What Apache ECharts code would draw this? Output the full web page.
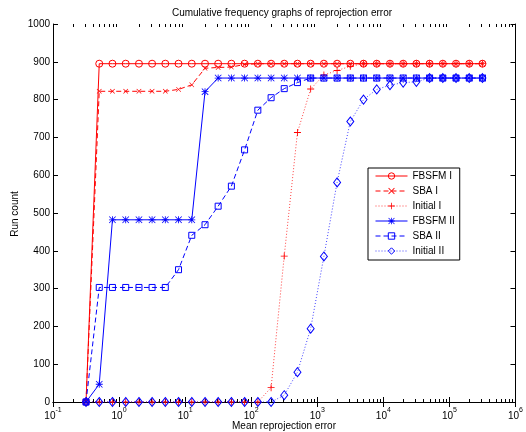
<!DOCTYPE html>
<html>
<head>
<meta charset="utf-8">
<script src="https://cdn.jsdelivr.net/npm/echarts@6/dist/echarts.min.js"></script>
<style>
  html, body { margin: 0; padding: 0; background: #fff; }
  #chart { width: 526px; height: 432px; }
</style>
</head>
<body>
<div id="chart"></div>
<script>
// error values (x), one point every 0.2 decade from 10^-0.5 to 10^5.5
var errors = [0.316, 0.501, 0.794, 1.26, 2.0, 3.16, 5.01, 7.94, 12.6, 20.0, 31.6,
  50.1, 79.4, 126, 200, 316, 501, 794, 1259, 1995, 3162, 5012, 7943, 12589,
  19953, 31623, 50119, 79433, 125893, 199526, 316228];

// run counts per method
var fbsfm1 = [0, 895, 895, 895, 895, 895, 895, 895, 895, 895, 895, 895, 895, 895, 895, 895,
  895, 895, 895, 895, 895, 895, 895, 895, 895, 895, 895, 895, 895, 895, 895];
var sba1 = [0, 822, 822, 822, 822, 822, 822, 827, 839, 883, 885, 886, 893, 895, 895, 895,
  895, 895, 895, 895, 895, 895, 895, 895, 895, 895, 895, 895, 895, 895, 895];
var initial1 = [0, 0, 0, 0, 0, 0, 0, 0, 0, 0, 0, 0, 0, 0, 38, 386,
  713, 828, 865, 877, 888, 895, 895, 895, 895, 895, 895, 895, 895, 895, 895];
var fbsfm2 = [0, 47, 482, 482, 482, 482, 482, 482, 482, 821, 857, 857, 857, 857, 857, 857,
  857, 857, 857, 857, 857, 857, 857, 857, 857, 857, 857, 857, 857, 857, 857];
var sba2 = [0, 303, 303, 303, 303, 303, 303, 350, 441, 469, 518, 571, 667, 772, 805, 829,
  845, 857, 857, 857, 857, 857, 857, 857, 857, 857, 857, 857, 857, 857, 857];
var initial2 = [0, 0, 0, 0, 0, 0, 0, 0, 0, 0, 0, 0, 0, 0, 0, 18,
  79, 194, 385, 581, 742, 800, 827, 838, 845, 847, 857, 857, 857, 857, 857];

var names = ["FBSFM I", "SBA I", "Initial I", "FBSFM II", "SBA II", "Initial II"];

// log axis minor ticks (2..9 in each decade)
var decades = [0.1, 1, 10, 100, 1000, 10000, 100000];
var minorSteps = [2, 3, 4, 5, 6, 7, 8, 9];

var FONT = "Liberation Sans, Arial, Helvetica, sans-serif";
var RED = "#ff0000";
var BLUE = "#0000ff";
var DASHED = [5, 3];
var DOTTED = [1, 2];

// marker shapes
var PLUS = "path://M4.4,0H5.6V4.4H10V5.6H5.6V10H4.4V5.6H0V4.4H4.4Z";
var CROSS = "path://M0.9,0L5,4.1L9.1,0L10,0.9L5.9,5L10,9.1L9.1,10L5,5.9L0.9,10L0,9.1L4.1,5L0,0.9Z";
var STAR = "path://M4.4,0H5.6V10H4.4Z M0,4.4H10V5.6H0Z M0.8,0L10,9.2L9.2,10L0,0.8Z M9.2,0L10,0.8L0.8,10L0,9.2Z";

function pairs(ys) {
  return errors.map(function (x, i) { return [x, ys[i]]; });
}

function lineSeries(name, ys, color, dash, symbol, size, hollow) {
  return {
    name: name,
    type: "line",
    data: pairs(ys),
    symbol: symbol,
    symbolSize: size,
    showAllSymbol: true,
    animation: false,
    lineStyle: { color: color, width: 1, type: dash, opacity: dash === DOTTED ? 0.75 : 1 },
    // hollow markers: transparent face, thin coloured edge
    itemStyle: hollow
      ? { color: "rgba(255,255,255,0)", borderColor: color, borderWidth: 1 }
      : { color: color, borderWidth: 0 },
    emphasis: { disabled: true }
  };
}

var minorData = [];
decades.forEach(function (d) {
  minorSteps.forEach(function (m) { minorData.push([d * m, 0]); });
});

var chart = echarts.init(document.getElementById("chart"));

var sup = function (v) {
  var e = Math.round(Math.log(v) / Math.LN10);
  return "{b|10}{e|" + e + "}";
};

chart.setOption({
  backgroundColor: "#fff",
  animation: false,
  textStyle: { fontFamily: FONT },
  grid: { left: 53, right: 10, top: 24, bottom: 30 },
  graphic: [
    {
      type: "text", x: 282, y: 13,
      style: { text: "Cumulative frequency graphs of reprojection error", fontSize: 10,
        fontFamily: FONT, fill: "#000", align: "center", verticalAlign: "middle" }
    },
    {
      type: "text", x: 284, y: 426,
      style: { text: "Mean reprojection error", fontSize: 10,
        fontFamily: FONT, fill: "#000", align: "center", verticalAlign: "middle" }
    },
    {
      type: "text", x: 15, y: 214, rotation: Math.PI / 2,
      style: { text: "Run count", fontSize: 10,
        fontFamily: FONT, fill: "#000", align: "center", verticalAlign: "middle" }
    }
  ],
  legend: {
    data: names,
    orient: "vertical",
    left: 368,
    top: 168,
    padding: [3, 5, 4, 7],
    itemWidth: 32,
    itemHeight: 8,
    itemGap: 5,
    backgroundColor: "#fff",
    borderColor: "#000",
    borderWidth: 1,
    borderRadius: 0,
    selectedMode: false,
    lineStyle: { width: 1 },
    itemStyle: { borderWidth: 1 },
    textStyle: { fontSize: 10, color: "#000", fontFamily: FONT, padding: [0, 0, 0, 0] }
  },
  xAxis: [
    {
      type: "log", logBase: 10, min: 0.1, max: 1000000,
      axisLine: { lineStyle: { color: "#000", width: 1 } },
      axisTick: { inside: true, length: 5, lineStyle: { color: "#000" } },
      axisLabel: {
        margin: 5, color: "#000", formatter: sup,
        rich: {
          b: { fontSize: 10, fontFamily: FONT, color: "#000", lineHeight: 14, verticalAlign: "bottom" },
          e: { fontSize: 7, fontFamily: FONT, color: "#000", lineHeight: 8, verticalAlign: "top" }
        }
      },
      splitLine: { show: false }
    },
    {
      type: "log", logBase: 10, min: 0.1, max: 1000000, position: "top",
      axisLine: { lineStyle: { color: "#000", width: 1 } },
      axisTick: { inside: true, length: 5, lineStyle: { color: "#000" } },
      axisLabel: { show: false },
      splitLine: { show: false }
    }
  ],
  yAxis: [
    {
      type: "value", min: 0, max: 1000, interval: 100,
      axisLine: { show: true, lineStyle: { color: "#000", width: 1 } },
      axisTick: { show: true, inside: true, length: 5, lineStyle: { color: "#000" } },
      axisLabel: {
        margin: 3, fontSize: 10, color: "#000", fontFamily: FONT,
        formatter: function (v) { return String(v); }
      },
      splitLine: { show: false }
    },
    {
      type: "value", min: 0, max: 1000, interval: 100, position: "right",
      axisLine: { show: true, lineStyle: { color: "#000", width: 1 } },
      axisTick: { show: true, inside: true, length: 5, lineStyle: { color: "#000" } },
      axisLabel: { show: false },
      splitLine: { show: false }
    }
  ],
  series: [
    {
      name: "minor",
      type: "custom",
      silent: true,
      data: minorData,
      encode: { x: 0, y: 1 },
      renderItem: function (params, api) {
        var v = api.value(0);
        var b = api.coord([v, 0]);
        var t = api.coord([v, 1000]);
        var x = Math.round(b[0]) + 0.5;
        return {
          type: "group",
          children: [
            { type: "line", shape: { x1: x, y1: b[1], x2: x, y2: b[1] - 3 }, style: { stroke: "#000", lineWidth: 1 } },
            { type: "line", shape: { x1: x, y1: t[1], x2: x, y2: t[1] + 3 }, style: { stroke: "#000", lineWidth: 1 } }
          ]
        };
      }
    },
    lineSeries(names[0], fbsfm1, RED, "solid", "circle", 7, true),
    lineSeries(names[1], sba1, RED, DASHED, CROSS, 5, false),
    lineSeries(names[2], initial1, RED, DOTTED, PLUS, 7, false),
    lineSeries(names[3], fbsfm2, BLUE, "solid", STAR, 7, false),
    lineSeries(names[4], sba2, BLUE, DASHED, "rect", 6, true),
    lineSeries(names[5], initial2, BLUE, DOTTED, "diamond", [7, 9], true)
  ]
});
</script>
</body>
</html>
